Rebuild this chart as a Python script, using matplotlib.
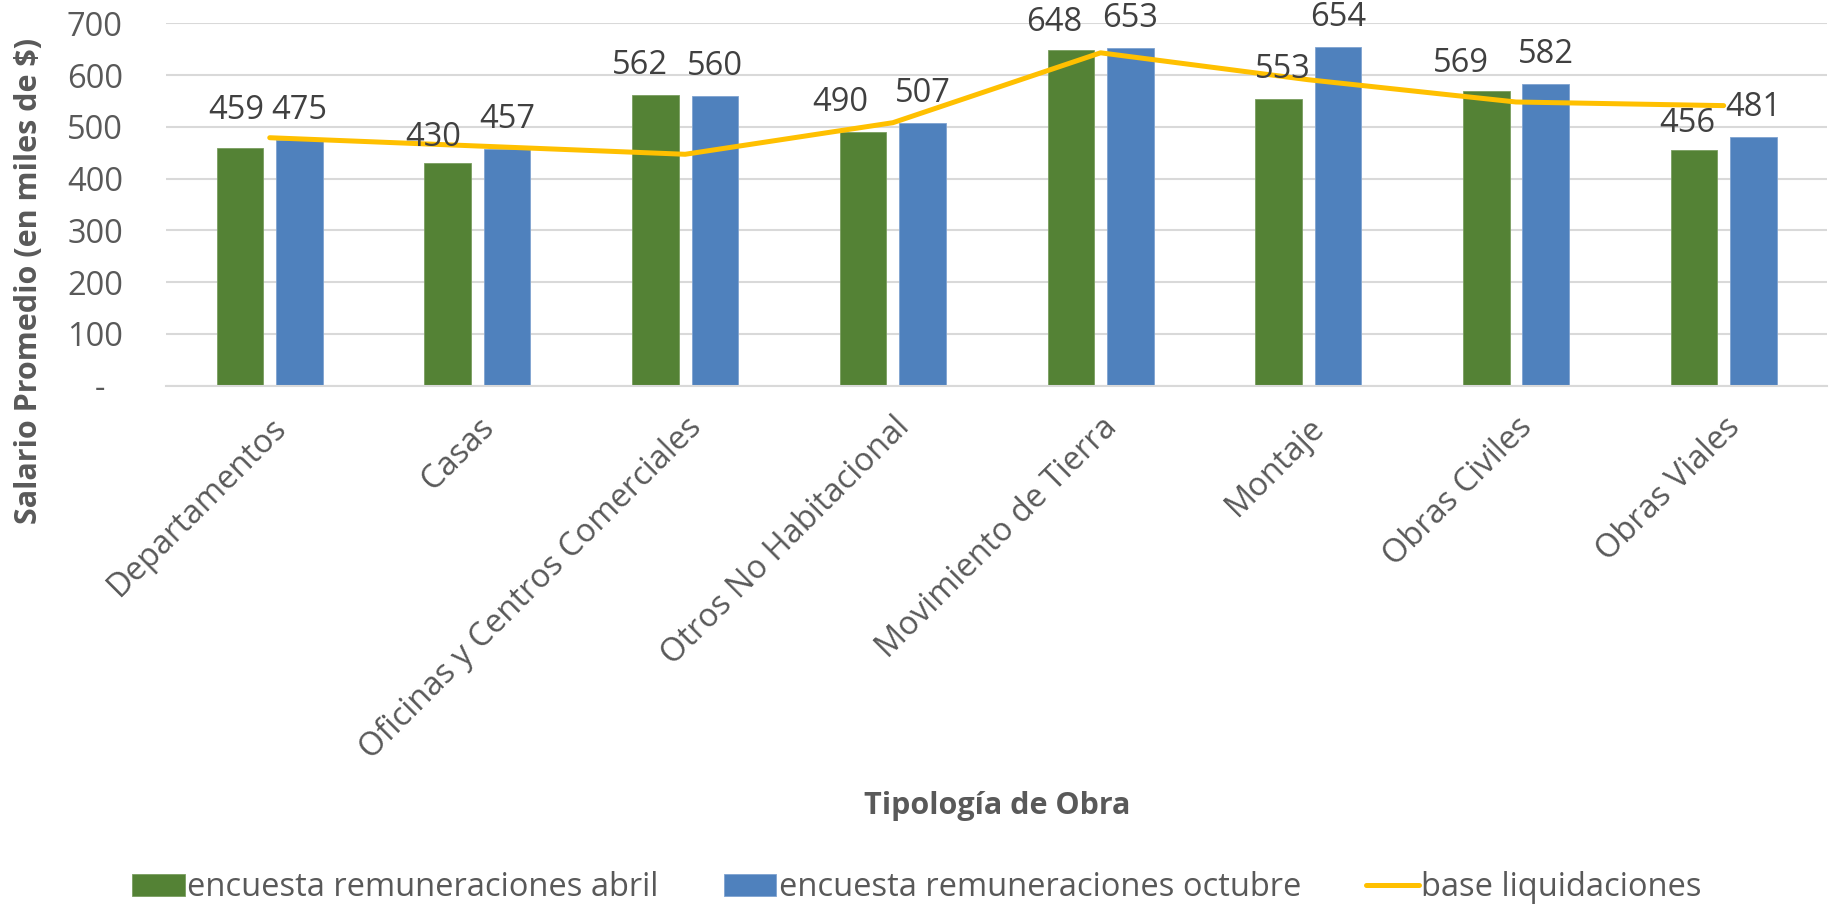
import matplotlib
matplotlib.use("Agg")
import matplotlib.pyplot as plt
import numpy as np

# ---- data ----
categories = ["Departamentos", "Casas", "Oficinas y Centros Comerciales",
              "Otros No Habitacional", "Movimiento de Tierra", "Montaje",
              "Obras Civiles", "Obras Viales"]
abril = [459, 430, 562, 490, 648, 553, 569, 456]
octubre = [475, 457, 560, 507, 653, 654, 582, 481]
liquidaciones = [479, 463, 447, 508, 643, 591, 548, 541]
series_names = ["encuesta remuneraciones abril",
                "encuesta remuneraciones octubre",
                "base liquidaciones"]
yticks = [0, 100, 200, 300, 400, 500, 600, 700]
ytick_labels = ["-  ", "100", "200", "300", "400", "500", "600", "700"]

# label nudges for abril labels (pixels: dx, dy up)
abril_nudge = [(-4, 8), (-15, -4), (-16, 0), (-23, 0), (-17, -2), (4, 0), (-25, -2), (-7, -3)]

GREEN = "#548235"
BLUE = "#4F81BD"
GOLD = "#FFC000"
TXT = "#595959"
LBL = "#404040"
GRID = "#D9D9D9"

FONT = "Open Sans"
plt.rcParams["font.family"] = [FONT, "DejaVu Sans"]

W, H, DPI = 1834, 906, 100
FS = 23.5
fig = plt.figure(figsize=(W / DPI, H / DPI), dpi=DPI)
ax = fig.add_axes([165.9 / W, 1 - 385.7 / H, (1827.5 - 165.9) / W, (385.7 - 23.3) / H])

x = np.arange(len(categories))
bw = 0.224
off = 0.143
b1 = ax.bar(x - off, abril, bw, color=GREEN, edgecolor="#7A9E60", linewidth=0.6, zorder=2,
            label=series_names[0])
b2 = ax.bar(x + off, octubre, bw, color=BLUE, edgecolor="#7FA3D0", linewidth=0.6, zorder=2,
            label=series_names[1])
ln, = ax.plot(x, liquidaciones, color=GOLD, linewidth=3.6, solid_capstyle="round",
              solid_joinstyle="round", zorder=3, label=series_names[2])

ax.set_xlim(-0.5, len(categories) - 0.5)
ax.set_ylim(0, 700)
ax.set_yticks(yticks)
ax.set_yticklabels(ytick_labels)
ax.yaxis.grid(True, color=GRID, linewidth=1.5, zorder=0)
ax.set_axisbelow(True)
for s in ["top", "right", "left"]:
    ax.spines[s].set_visible(False)
ax.spines["bottom"].set_color(GRID)
ax.spines["bottom"].set_linewidth(1.5)
ax.tick_params(axis="y", length=0, pad=31, labelsize=FS, labelcolor=TXT)
ax.tick_params(axis="x", length=0, pad=18, labelsize=FS, labelcolor=TXT)
ax.set_xticks(x)
ax.set_xticklabels(categories, rotation=45, ha="right", va="top", rotation_mode="anchor")

px2pt = 72.0 / DPI
for i, v in enumerate(abril):
    dx, dy = abril_nudge[i]
    ax.annotate(str(v), (x[i] - off, v), xytext=(dx * px2pt, (21 + dy) * px2pt),
                textcoords="offset points", ha="center", va="baseline",
                fontsize=FS, color=LBL, annotation_clip=False, zorder=4)
for i, v in enumerate(octubre):
    ax.annotate(str(v), (x[i] + off, v), xytext=(0, 21 * px2pt),
                textcoords="offset points", ha="center", va="baseline",
                fontsize=FS, color=LBL, annotation_clip=False, zorder=4)

fig.text(996.7 / W, 1 - 814 / H, "Tipología de Obra", ha="center", va="baseline",
         fontsize=22, fontweight="bold", color=TXT)
fig.text(29 / W, 1 - 281 / H, "Salario Promedio (en miles de $)", ha="center", va="center",
         rotation=90, fontsize=22, fontweight="bold", color=TXT)

leg = fig.legend(handles=[b1, b2, ln], labels=series_names, loc="center",
                 bbox_to_anchor=(0.5, 1 - 888 / H), ncol=3, frameon=False,
                 fontsize=FS, handlelength=1.6, handleheight=0.66,
                 handletextpad=0.08, columnspacing=2.0, borderpad=0)
for t in leg.get_texts():
    t.set_color(TXT)

fig.savefig("out.png", dpi=DPI)
